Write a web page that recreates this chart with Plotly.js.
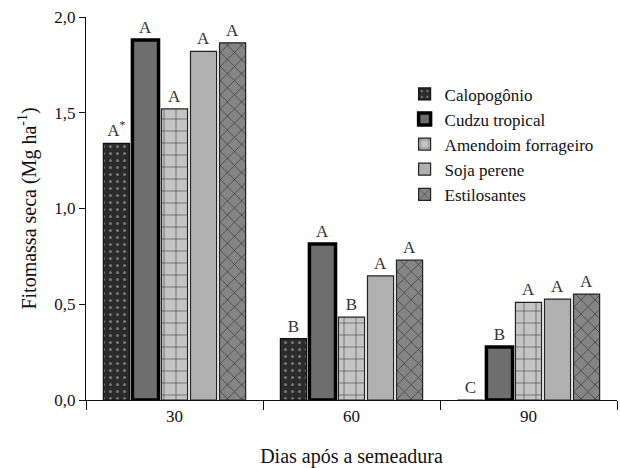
<!DOCTYPE html>
<html><head><meta charset="utf-8">
<script src="https://cdn.plot.ly/plotly-3.0.1.min.js"></script>
<style>body{margin:0;background:#fff}#c{width:620px;height:468px}</style>
</head><body><div id="c"></div>
<script>
var categories = ["30", "60", "90"];
var seriesNames = ["Calopogônio", "Cudzu tropical", "Amendoim forrageiro", "Soja perene", "Estilosantes"];
var calopogonio = [1.34, 0.32, 0.0];
var cudzu = [1.88, 0.815, 0.277];
var amendoim = [1.52, 0.433, 0.51];
var soja = [1.82, 0.648, 0.527];
var estilosantes = [1.865, 0.73, 0.553];
var labCalopogonio = ["A<sup>*</sup>", "B", "C"];
var labCudzu = ["A", "A", "B"];
var labAmendoim = ["A", "B", "A"];
var labSoja = ["A", "A", "A"];
var labEstilosantes = ["A", "A", "A"];
var yTicks = [0, 0.5, 1.0, 1.5, 2.0];

var SERIF = "Liberation Serif, Times New Roman, serif";
var values = [calopogonio, cudzu, amendoim, soja, estilosantes];
var labels = [labCalopogonio, labCudzu, labAmendoim, labSoja, labEstilosantes];
var styles = [
  {color:"#2b2b2b", line:{color:"#111", width:1.2}, pattern:{shape:".", fgcolor:"#777", bgcolor:"#2b2b2b", size:7, solidity:0.15}},
  {color:"#6e6e6e", line:{color:"#000", width:3.5}},
  {color:"#c4c4c4", line:{color:"#222", width:1.2}, pattern:{shape:"+", fgcolor:"#222", bgcolor:"#c4c4c4", size:12, solidity:0.08}},
  {color:"#b0b0b0", line:{color:"#222", width:1.2}},
  {color:"#858585", line:{color:"#222", width:1.2}, pattern:{shape:"x", fgcolor:"#2a2a2a", bgcolor:"#858585", size:10, solidity:0.12}}
];
var traces = seriesNames.map(function(n, i){
  return {
    type:"bar", name:n, x:categories, y:values[i],
    text:labels[i], textposition:"outside", cliponaxis:false,
    textfont:{family:SERIF, size:17, color:"#333"},
    marker:styles[i]
  };
});
var layout = {
  width:620, height:468,
  margin:{l:86, r:3, t:17, b:68},
  paper_bgcolor:"#fff", plot_bgcolor:"#fff",
  separators:",.",
  barmode:"group", bargap:0.18, bargroupgap:0.1,
  font:{family:SERIF, color:"#111"},
  showlegend:true,
  legend:{x:0.6, y:0.845, xanchor:"left", yanchor:"top", bgcolor:"rgba(0,0,0,0)",
          font:{family:SERIF, size:17, color:"#111"}, itemwidth:30, tracegroupgap:0},
  xaxis:{type:"category", showline:true, linecolor:"#111", linewidth:1.2,
         ticks:"outside", tickson:"boundaries", ticklen:9, tickcolor:"#111",
         tickfont:{family:SERIF, size:17, color:"#111"},
         title:{text:"Dias após a semeadura", font:{family:SERIF, size:20, color:"#111"}, standoff:24}},
  yaxis:{range:[0, 2.0], tickvals:yTicks, tickformat:".1f", showline:true, linecolor:"#111", linewidth:1.2,
         ticks:"outside", ticklen:6, tickcolor:"#111", showgrid:false, zeroline:false,
         tickfont:{family:SERIF, size:17, color:"#111"},
         title:{text:"Fitomassa seca (Mg ha<sup>-1</sup>)", font:{family:SERIF, size:20, color:"#111"}, standoff:12}}
};
Plotly.newPlot("c", traces, layout, {displayModeBar:false, staticPlot:true});
</script></body></html>
